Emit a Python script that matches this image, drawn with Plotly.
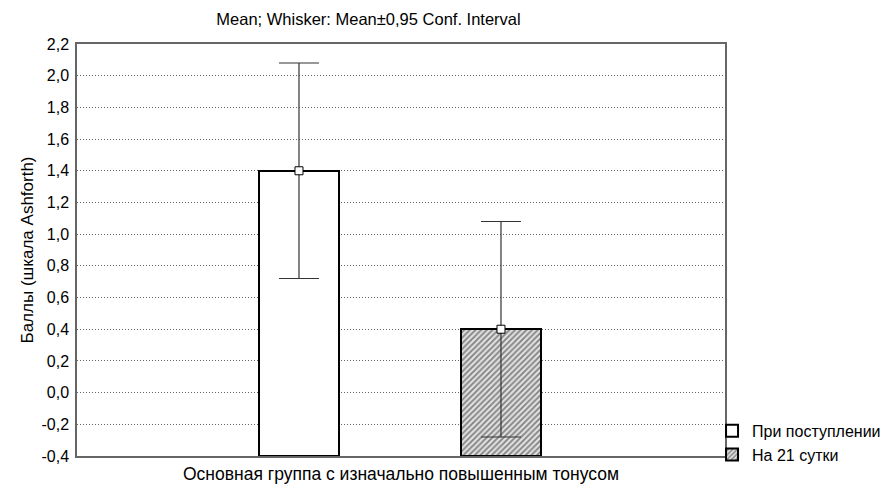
import plotly.graph_objects as go

series_names = ["При поступлении", "На 21 сутки"]
means = [1.4, 0.4]
ci_half = [0.68, 0.68]
x_pos = [0, 1]
base_value = -0.4
y_ticks = [-0.4, -0.2, 0.0, 0.2, 0.4, 0.6, 0.8, 1.0, 1.2, 1.4, 1.6, 1.8, 2.0, 2.2]
y_tick_labels = ["-0,4", "-0,2", "0,0", "0,2", "0,4", "0,6", "0,8", "1,0", "1,2", "1,4", "1,6", "1,8", "2,0", "2,2"]

W, H = 883, 478
L, R, T, B = 69, 166, 36, 30

fig = go.Figure()

patterns = [dict(shape=""), dict(shape="/", size=4, solidity=0.45, fgcolor="#222222", bgcolor="#e0e0e0")]
for i in range(2):
    fig.add_trace(go.Bar(
        x=[x_pos[i]], y=[means[i] - base_value], base=base_value,
        width=0.4, name=series_names[i],
        marker=dict(color="white", line=dict(color="black", width=2), pattern=patterns[i]),
    ))

fig.add_trace(go.Scatter(
    x=x_pos, y=means, mode="markers", showlegend=False,
    marker=dict(symbol="square", size=8, color="white", line=dict(color="black", width=1)),
    error_y=dict(type="data", array=ci_half, color="#333333", thickness=1.2, width=20),
))

fig.update_layout(
    width=W, height=H,
    margin=dict(l=L, r=R, t=T, b=B, autoexpand=False),
    plot_bgcolor="white", paper_bgcolor="white",
    font=dict(family="Arial, Liberation Sans, sans-serif", size=16, color="black"),
    title=dict(text="Mean; Whisker: Mean±0,95 Conf. Interval", x=360.5 / W, xanchor="center",
               xref="container", yref="container", y=1 - 11 / H, yanchor="middle",
               font=dict(size=16.5)),
    showlegend=True,
    legend=dict(x=0.98, xanchor="left", y=0.032, yanchor="middle", bgcolor="rgba(0,0,0,0)",
                font=dict(size=16), tracegroupgap=0, itemwidth=30),
    bargap=0,
)
fig.update_xaxes(range=[-1.099, 2.109], showticklabels=False, showgrid=False, zeroline=False,
                 showline=True, linecolor="#666666", linewidth=1.5, mirror=True, automargin=False,
                 title=dict(text="Основная группа с изначально повышенным тонусом", standoff=11,
                            font=dict(size=17.5)))
fig.update_yaxes(range=[-0.4, 2.2], tickvals=y_ticks, ticktext=y_tick_labels, zeroline=False,
                 showgrid=True, gridcolor="#666666", griddash="1px,2px", gridwidth=1,
                 showline=True, linecolor="#666666", linewidth=1.5, mirror=True,
                 ticks="", ticklen=0, automargin=False, tickfont=dict(size=16),
                 ticklabelstandoff=3,
                 title=dict(text="Баллы (шкала Ashforth)", standoff=4, font=dict(size=17)))

fig.write_html("out.html")
